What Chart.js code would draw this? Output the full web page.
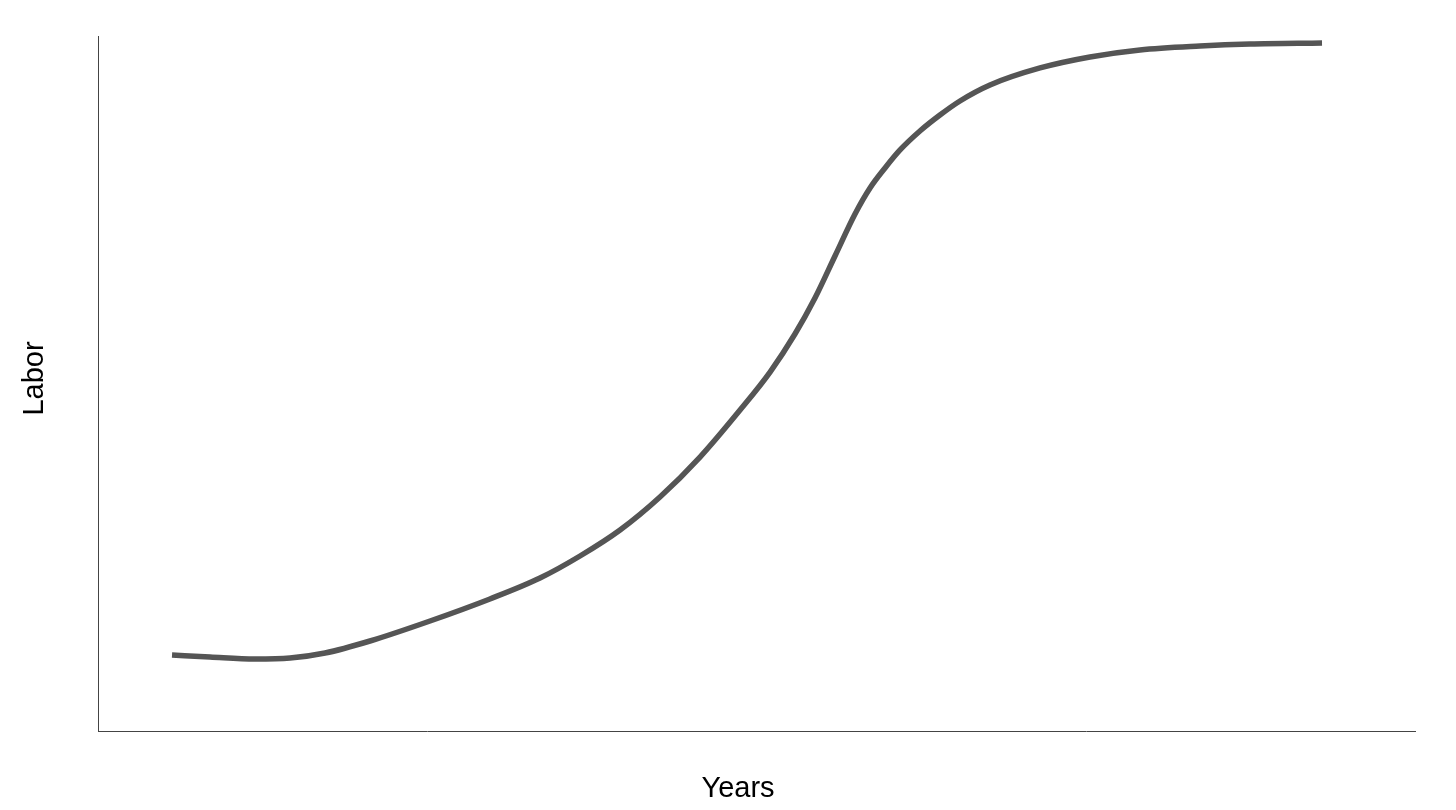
<!DOCTYPE html>
<html>
<head>
<meta charset="utf-8">
<script src="https://cdn.jsdelivr.net/npm/chart.js@4/dist/chart.umd.min.js"></script>
<style>
html,body{margin:0;padding:0;background:#fff;}
#wrap{width:1456px;height:810px;}
</style>
</head>
<body>
<div id="wrap"><canvas id="c" width="1456" height="810"></canvas></div>
<script>
// Data (relative units 0–100)
const years = [5.62, 8.50, 11.92, 14.58, 17.24, 20.65, 25.21, 29.76, 33.56, 36.60, 39.64, 42.67, 45.71, 48.75, 51.03, 52.92, 54.44, 55.96, 57.48, 58.62, 59.76, 60.90, 62.41, 63.93, 65.45, 67.73, 71.53, 75.32, 79.12, 83.67, 87.47, 92.94];
const labor = [10.94, 10.65, 10.36, 10.50, 11.22, 12.95, 15.83, 19.00, 22.01, 25.18, 28.92, 33.67, 39.42, 46.19, 51.65, 57.12, 62.30, 68.35, 74.39, 78.13, 81.01, 83.60, 86.33, 88.63, 90.65, 92.95, 95.40, 96.98, 97.99, 98.56, 98.85, 99.00];
const xTitle = 'Years';
const yTitle = 'Labor';

const points = years.map((x, i) => ({x: x, y: labor[i]}));

const titlePlugin = {
  id: 'axisTitles',
  afterDraw(chart) {
    const ctx = chart.ctx;
    ctx.save();
    ctx.fillStyle = '#000';
    ctx.font = '29px "Liberation Sans", Arial, sans-serif';
    ctx.textAlign = 'center';
    ctx.textBaseline = 'alphabetic';
    ctx.fillText(xTitle, 738, 797);
    ctx.translate(43, 378.5);
    ctx.rotate(-Math.PI / 2);
    ctx.fillText(yTitle, 0, 0);
    ctx.restore();
  }
};

new Chart(document.getElementById('c'), {
  type: 'line',
  data: {
    datasets: [{
      data: points,
      borderColor: '#555555',
      borderWidth: 5.5,
      pointRadius: 0,
      cubicInterpolationMode: 'monotone',
      fill: false
    }]
  },
  options: {
    responsive: false,
    animation: false,
    layout: { padding: { left: 15.6, right: 41, top: 36, bottom: 5.6 } },
    plugins: { legend: { display: false }, tooltip: { enabled: false } },
    scales: {
      x: {
        type: 'linear', min: 0, max: 100,
        grid: { display: false },
        border: { display: true, color: '#444444', width: 1 },
        ticks: { display: false },
        afterFit(s) { s.height = 73.4; }
      },
      y: {
        type: 'linear', min: 0, max: 100,
        grid: { display: false },
        border: { display: true, color: '#444444', width: 1 },
        ticks: { display: false },
        afterFit(s) { s.width = 82.4; }
      }
    }
  },
  plugins: [titlePlugin]
});
</script>
</body>
</html>
